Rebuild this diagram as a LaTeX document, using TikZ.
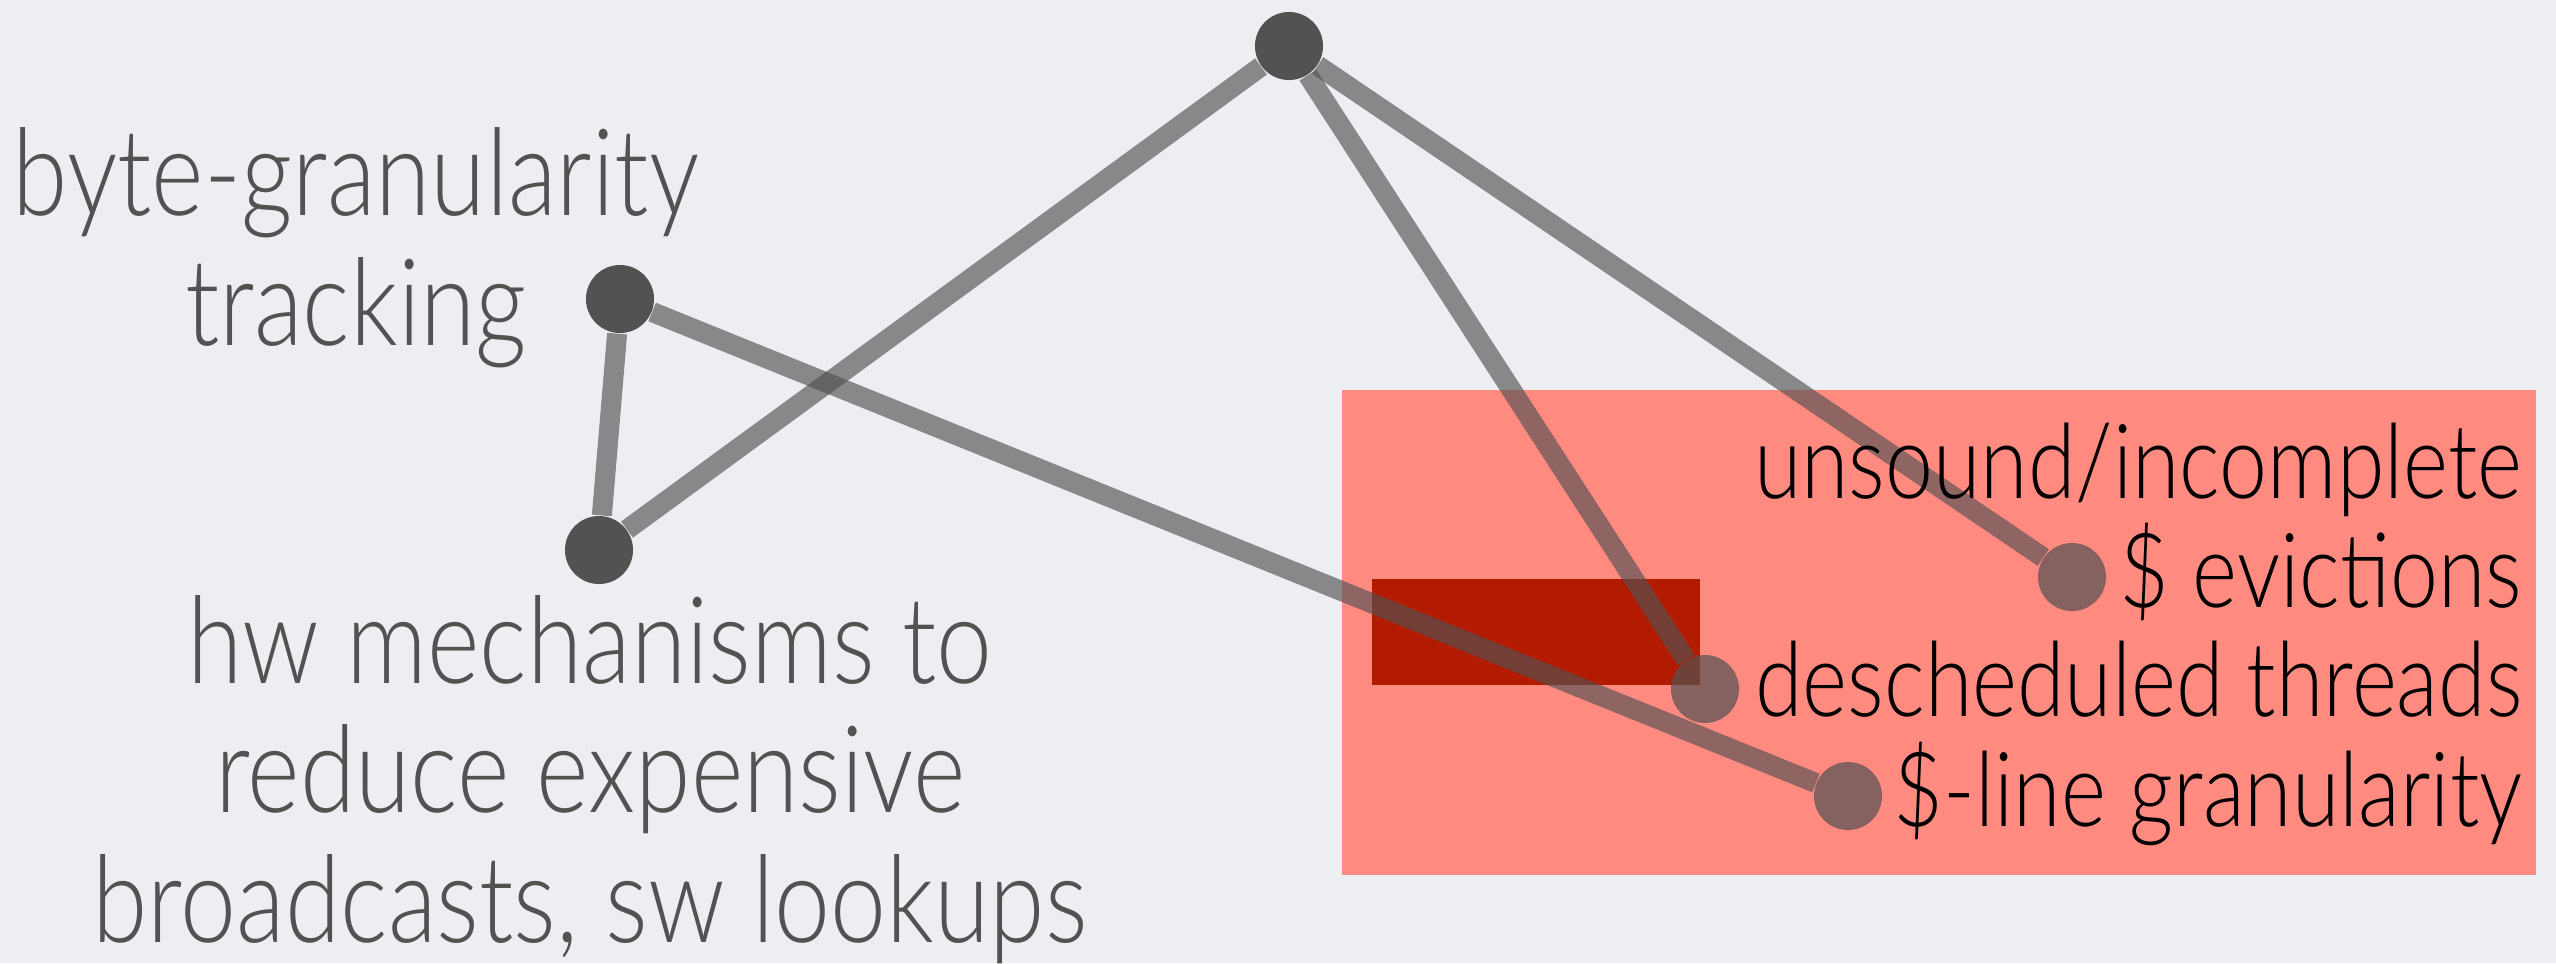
\documentclass[tikz,border=0pt]{standalone}
\usepackage{fontspec}
\setmainfont{Lato Light}[FakeStretch=0.83]
\definecolor{bgc}{HTML}{ECEEF1}
\definecolor{hotred}{HTML}{FF8A80}
\definecolor{darkred}{HTML}{B21B00}
\definecolor{ink}{HTML}{525252}
\tikzset{dot/.style={circle,fill=black!68,inner sep=0pt,minimum size=6.8mm},
         dimdot/.style={dot,fill opacity=.7},
         link/.style={line width=2mm,black!68,draw opacity=.65},
         lefttext/.style={align=center,inner sep=0pt,text=ink,font=\fontsize{34.4}{36.7}\selectfont},
         righttext/.style={align=right,inner sep=0pt,font=\fontsize{29.5}{31}\selectfont}}

\begin{document}
\begin{tikzpicture}[x=.01cm,y=-.01cm]
  \fill[bgc] (0,0) rectangle (2556,963);
  \useasboundingbox (0,0) rectangle (2556,963);
  \fill[hotred] (1342,390) rectangle (2536,875);
  \fill[darkred] (1372,579) rectangle (1700,685);
  \node[dot] (top) at (1289,46) {};
  \node[dot] (track) at (620,299) {};
  \node[dot] (hw) at (599,550) {};
  \node[dimdot] (evict) at (2072,577) {};
  \node[dimdot] (desched) at (1705,689) {};
  \node[dimdot] (cline) at (1848,796) {};
  \draw[link] (top)--(hw);
  \draw[link] (top)--(desched);
  \draw[link] (top)--(evict);
  \draw[link] (track)--(hw);
  \draw[link] (track)--(cline);
  \node[lefttext,anchor=base] (tracklbl) at (356,345) {byte-granularity\\tracking};
  \node[lefttext,anchor=base] (hwlbl) at (590,942) {hw mechanisms to\\reduce expensive\\broadcasts, sw lookups};
  \node[righttext,anchor=base east] (redlbl) at (2523,826) {unsound/incomplete\\\$ evictions\\descheduled threads\\\$-line granularity};
\end{tikzpicture}
\end{document}
